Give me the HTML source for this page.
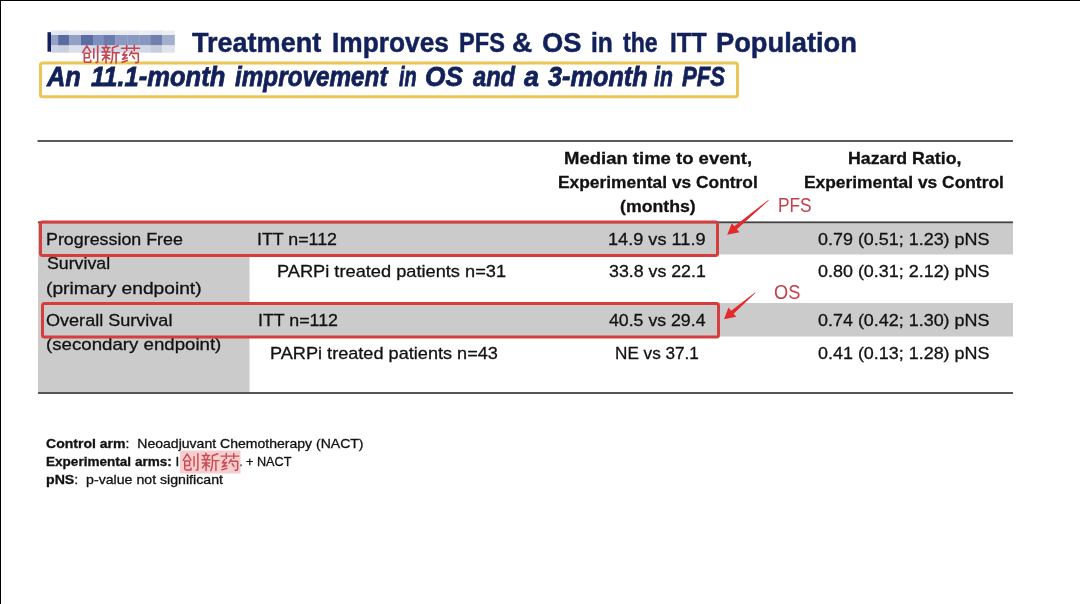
<!DOCTYPE html>
<html><head><meta charset="utf-8"><style>
html,body{margin:0;padding:0;background:#fff;}
body{width:1080px;height:604px;position:relative;overflow:hidden;font-family:"Liberation Sans",sans-serif;}
.ov{position:absolute;left:0;top:0;}
.t{position:absolute;white-space:nowrap;line-height:normal;transform-origin:0 0;-webkit-text-stroke:0.3px currentColor;}
.t.sub{-webkit-text-stroke:0.8px currentColor;}
.t.ann{-webkit-text-stroke:0;}
.t.ttl{-webkit-text-stroke:0.5px currentColor;}
.edge-t{position:absolute;left:0;top:0;width:1080px;height:1px;background:#000;}
.edge-l{position:absolute;left:0;top:0;width:1px;height:604px;background:#000;}
</style></head><body>
<svg class="ov" width="1080" height="604" viewBox="0 0 1080 604">
<!-- table -->
<rect x="37.5" y="140" width="975.5" height="2" fill="#5a5a5a"/>
<rect x="38" y="222.5" width="975" height="32" fill="#cbcbcb"/>
<rect x="38" y="221.4" width="975" height="1.8" fill="#444"/>
<rect x="38" y="254.5" width="211.5" height="138" fill="#cbcbcb"/>
<rect x="38" y="303" width="975" height="33.5" fill="#cbcbcb"/>
<rect x="38" y="392" width="975" height="2" fill="#555"/>
</svg>
<div class="t ttl" style="left:191.70px;top:26.86px;font-size:28px;color:#12215a;transform:scaleX(0.9656)"><span style="font-weight:bold;font-style:normal">Treatment</span></div>
<div class="t ttl" style="left:331.86px;top:26.86px;font-size:28px;color:#12215a;transform:scaleX(0.9396)"><span style="font-weight:bold;font-style:normal">Improves</span></div>
<div class="t ttl" style="left:458.56px;top:26.86px;font-size:28px;color:#12215a;transform:scaleX(0.8431)"><span style="font-weight:bold;font-style:normal">PFS</span></div>
<div class="t ttl" style="left:511.81px;top:26.86px;font-size:28px;color:#12215a;transform:scaleX(0.9947)"><span style="font-weight:bold;font-style:normal">&amp;</span></div>
<div class="t ttl" style="left:541.83px;top:26.86px;font-size:28px;color:#12215a;transform:scaleX(0.9747)"><span style="font-weight:bold;font-style:normal">OS</span></div>
<div class="t ttl" style="left:590.82px;top:26.86px;font-size:28px;color:#12215a;transform:scaleX(0.8780)"><span style="font-weight:bold;font-style:normal">in</span></div>
<div class="t ttl" style="left:622.80px;top:26.86px;font-size:28px;color:#12215a;transform:scaleX(0.8255)"><span style="font-weight:bold;font-style:normal">the</span></div>
<div class="t ttl" style="left:670.23px;top:26.86px;font-size:28px;color:#12215a;transform:scaleX(0.8708)"><span style="font-weight:bold;font-style:normal">ITT</span></div>
<div class="t ttl" style="left:715.73px;top:26.86px;font-size:28px;color:#12215a;transform:scaleX(0.9744)"><span style="font-weight:bold;font-style:normal">Population</span></div>
<div class="t sub" style="left:47.11px;top:60.86px;font-size:28px;color:#12215a;transform:scaleX(0.9081)"><span style="font-weight:bold;font-style:italic">An</span></div>
<div class="t sub" style="left:91.10px;top:60.86px;font-size:28px;color:#12215a;transform:scaleX(0.9120)"><span style="font-weight:bold;font-style:italic">11.1-month</span></div>
<div class="t sub" style="left:234.50px;top:60.86px;font-size:28px;color:#12215a;transform:scaleX(0.8676)"><span style="font-weight:bold;font-style:italic">improvement</span></div>
<div class="t sub" style="left:399.30px;top:60.86px;font-size:28px;color:#12215a;transform:scaleX(0.7107)"><span style="font-weight:bold;font-style:italic">in</span></div>
<div class="t sub" style="left:424.86px;top:60.86px;font-size:28px;color:#12215a;transform:scaleX(0.9377)"><span style="font-weight:bold;font-style:italic">OS</span></div>
<div class="t sub" style="left:472.90px;top:60.86px;font-size:28px;color:#12215a;transform:scaleX(0.8446)"><span style="font-weight:bold;font-style:italic">and</span></div>
<div class="t sub" style="left:524.20px;top:60.86px;font-size:28px;color:#12215a;transform:scaleX(0.9600)"><span style="font-weight:bold;font-style:italic">a</span></div>
<div class="t sub" style="left:548.20px;top:60.86px;font-size:28px;color:#12215a;transform:scaleX(0.9028)"><span style="font-weight:bold;font-style:italic">3-month</span></div>
<div class="t sub" style="left:654.20px;top:60.86px;font-size:28px;color:#12215a;transform:scaleX(0.7570)"><span style="font-weight:bold;font-style:italic">in</span></div>
<div class="t sub" style="left:681.80px;top:60.86px;font-size:28px;color:#12215a;transform:scaleX(0.7923)"><span style="font-weight:bold;font-style:italic">PFS</span></div>
<div class="t" style="left:563.71px;top:148.62px;font-size:17px;color:#121212;transform:scaleX(1.0880)"><span style="font-weight:bold;font-style:normal">Median time to event,</span></div>
<div class="t" style="left:558.18px;top:172.92px;font-size:17px;color:#121212;transform:scaleX(1.0215)"><span style="font-weight:bold;font-style:normal">Experimental vs Control</span></div>
<div class="t" style="left:620.20px;top:197.12px;font-size:17px;color:#121212;transform:scaleX(1.0410)"><span style="font-weight:bold;font-style:normal">(months)</span></div>
<div class="t" style="left:847.96px;top:148.62px;font-size:17px;color:#121212;transform:scaleX(1.0439)"><span style="font-weight:bold;font-style:normal">Hazard Ratio,</span></div>
<div class="t" style="left:804.08px;top:172.92px;font-size:17px;color:#121212;transform:scaleX(1.0220)"><span style="font-weight:bold;font-style:normal">Experimental vs Control</span></div>
<div class="t" style="left:45.55px;top:229.62px;font-size:17px;color:#121212;transform:scaleX(1.0501)">Progression Free</div>
<div class="t" style="left:257.45px;top:229.62px;font-size:17px;color:#121212;transform:scaleX(1.0473)">ITT n=112</div>
<div class="t" style="left:607.93px;top:229.62px;font-size:17px;color:#121212;transform:scaleX(1.0678)">14.9 vs 11.9</div>
<div class="t" style="left:818.40px;top:229.81px;font-size:17px;color:#121212;transform:scaleX(1.0548)">0.79 (0.51; 1.23) pNS</div>
<div class="t" style="left:46.60px;top:253.81px;font-size:17px;color:#121212;transform:scaleX(1.0438)">Survival</div>
<div class="t" style="left:46.07px;top:278.81px;font-size:17px;color:#121212;transform:scaleX(1.1278)">(primary endpoint)</div>
<div class="t" style="left:276.93px;top:262.12px;font-size:17px;color:#121212;transform:scaleX(1.0717)">PARPi treated patients n=31</div>
<div class="t" style="left:608.70px;top:261.92px;font-size:17px;color:#121212;transform:scaleX(1.0449)">33.8 vs 22.1</div>
<div class="t" style="left:818.40px;top:261.92px;font-size:17px;color:#121212;transform:scaleX(1.0548)">0.80 (0.31; 2.12) pNS</div>
<div class="t" style="left:46.40px;top:310.62px;font-size:17px;color:#121212;transform:scaleX(1.0621)">Overall Survival</div>
<div class="t" style="left:257.65px;top:310.62px;font-size:17px;color:#121212;transform:scaleX(1.0473)">ITT n=112</div>
<div class="t" style="left:609.00px;top:310.62px;font-size:17px;color:#121212;transform:scaleX(1.0416)">40.5 vs 29.4</div>
<div class="t" style="left:818.40px;top:310.81px;font-size:17px;color:#121212;transform:scaleX(1.0548)">0.74 (0.42; 1.30) pNS</div>
<div class="t" style="left:45.90px;top:335.01px;font-size:17px;color:#121212;transform:scaleX(1.0978)">(secondary endpoint)</div>
<div class="t" style="left:270.03px;top:343.51px;font-size:17px;color:#121212;transform:scaleX(1.0665)">PARPi treated patients n=43</div>
<div class="t" style="left:614.99px;top:343.62px;font-size:17px;color:#121212;transform:scaleX(1.0086)">NE vs 37.1</div>
<div class="t" style="left:818.40px;top:343.81px;font-size:17px;color:#121212;transform:scaleX(1.0548)">0.41 (0.13; 1.28) pNS</div>
<div class="t" style="left:46.20px;top:436.60px;font-size:12.6px;color:#121212;transform:scaleX(1.1147)"><span style="font-weight:bold;font-style:normal">Control arm</span>:&nbsp; Neoadjuvant Chemotherapy (NACT)</div>
<div class="t" style="left:46.20px;top:455.10px;font-size:12.6px;color:#121212;transform:scaleX(1.0763)"><span style="font-weight:bold;font-style:normal">Experimental arms:</span> I</div>
<div class="t" style="left:239.49px;top:455.10px;font-size:12.6px;color:#121212;transform:scaleX(1.0050)">. + NACT</div>
<div class="t" style="left:46.20px;top:473.40px;font-size:12.6px;color:#121212;transform:scaleX(1.1234)"><span style="font-weight:bold;font-style:normal">pNS</span>:&nbsp; p-value not significant</div>
<div class="t ann" style="left:777.83px;top:193.80px;font-size:20px;color:#c4404a;transform:scaleX(0.8654)">PFS</div>
<div class="t ann" style="left:774.00px;top:281.30px;font-size:20px;color:#c4404a;transform:scaleX(0.9105)">OS</div>
<svg class="ov" width="1080" height="604" viewBox="0 0 1080 604">
<defs><filter id="bl" x="-5%" y="-30%" width="110%" height="160%"><feGaussianBlur stdDeviation="0.5"/></filter><filter id="bl2"><feGaussianBlur stdDeviation="0.35"/></filter></defs>
<rect x="47.5" y="32.2" width="3.5" height="19.5" fill="#12215a"/>
<g filter="url(#bl)"><rect x="51" y="30.5" width="7.400000000000001" height="4.5" fill="#e6e9f1"/>
<rect x="51" y="35" width="7.400000000000001" height="10.5" fill="#95a2c8"/>
<rect x="51" y="45.5" width="7.400000000000001" height="7.2" fill="#cdd3e4"/>
<rect x="58.1" y="30.5" width="11.100000000000005" height="4.5" fill="#e3e6ef"/>
<rect x="58.1" y="35" width="11.100000000000005" height="10.5" fill="#5a6c9f"/>
<rect x="58.1" y="45.5" width="11.100000000000005" height="7.2" fill="#c9cfe1"/>
<rect x="68.9" y="30.5" width="12.399999999999995" height="4.5" fill="#e8ebf2"/>
<rect x="68.9" y="35" width="12.399999999999995" height="10.5" fill="#93a1c6"/>
<rect x="68.9" y="45.5" width="12.399999999999995" height="7.2" fill="#dde0ea"/>
<rect x="81" y="30.5" width="12.3" height="4.5" fill="#e2e5ee"/>
<rect x="81" y="35" width="12.3" height="10.5" fill="#5a6ca2"/>
<rect x="81" y="45.5" width="12.3" height="7.2" fill="#d8dce8"/>
<rect x="93" y="30.5" width="11.099999999999998" height="4.5" fill="#e6e9f1"/>
<rect x="93" y="35" width="11.099999999999998" height="10.5" fill="#7d8fbe"/>
<rect x="93" y="45.5" width="11.099999999999998" height="7.2" fill="#cfd5e5"/>
<rect x="103.8" y="30.5" width="11.700000000000006" height="4.5" fill="#e4e7f0"/>
<rect x="103.8" y="35" width="11.700000000000006" height="10.5" fill="#6a7cae"/>
<rect x="103.8" y="45.5" width="11.700000000000006" height="7.2" fill="#d3d8e7"/>
<rect x="115.2" y="30.5" width="12.399999999999995" height="4.5" fill="#e9ebf2"/>
<rect x="115.2" y="35" width="12.399999999999995" height="10.5" fill="#8a9ac2"/>
<rect x="115.2" y="45.5" width="12.399999999999995" height="7.2" fill="#d6dae6"/>
<rect x="127.3" y="30.5" width="12.40000000000001" height="4.5" fill="#e8eaf1"/>
<rect x="127.3" y="35" width="12.40000000000001" height="10.5" fill="#8a99c1"/>
<rect x="127.3" y="45.5" width="12.40000000000001" height="7.2" fill="#d6dae6"/>
<rect x="139.4" y="30.5" width="11.700000000000006" height="4.5" fill="#eceef4"/>
<rect x="139.4" y="35" width="11.700000000000006" height="10.5" fill="#8797bf"/>
<rect x="139.4" y="45.5" width="11.700000000000006" height="7.2" fill="#d2d7e5"/>
<rect x="150.8" y="30.5" width="11.699999999999978" height="4.5" fill="#e4e7f0"/>
<rect x="150.8" y="35" width="11.699999999999978" height="10.5" fill="#6f80ad"/>
<rect x="150.8" y="45.5" width="11.699999999999978" height="7.2" fill="#c5cce0"/>
<rect x="162.2" y="30.5" width="12.600000000000012" height="4.5" fill="#eceef4"/>
<rect x="162.2" y="35" width="12.600000000000012" height="10.5" fill="#a3adcc"/>
<rect x="162.2" y="45.5" width="12.600000000000012" height="7.2" fill="#e0e3ec"/></g>
<rect x="40.5" y="63" width="697" height="33.8" rx="2" fill="none" stroke="#ecc655" stroke-width="3"/>
<rect x="40.5" y="222" width="677" height="33.5" rx="2" fill="none" stroke="#d63d3d" stroke-width="3"/>
<rect x="42.5" y="303.5" width="676" height="33.5" rx="2" fill="none" stroke="#d63d3d" stroke-width="3"/>
<polygon fill="#e42a2a" points="768.31,199.97 734.41,226.28 731.78,223.14 727.20,234.80 739.49,232.34 736.85,229.19 768.69,200.43"/>
<polygon fill="#e42a2a" points="755.01,292.57 731.15,310.73 728.50,307.61 724.00,319.30 736.27,316.75 733.61,313.63 755.39,293.03"/>
<g transform="translate(80.5,44) scale(1.0)" fill="none" stroke="#c4454f" stroke-width="1.6" stroke-linecap="round" stroke-linejoin="round"><path d="M2.2,8.5 L6.3,1.8 L10.2,8.2 M3.8,9.2 H8.8 V13.8 H3.8 M3.8,9.2 V17.2 Q3.8,18.3 5.2,18.3 H10.2 V16.2 M13.3,4.8 V14.2 M17.2,1.8 V17.6 Q17.2,18.8 15.6,18.4"/><path transform="translate(20,0)" d="M5.3,1.2 L5.8,2.8 M1.8,3.6 H9.2 M3.4,4.6 L4.4,7.2 M7.6,4.6 L6.6,7.2 M1.4,8 H9.6 M1.8,11.2 H9.2 M5.5,8 V19 M5.5,11.5 L1.8,16.2 M5.5,12.5 L9.2,15 M17.6,1.8 L12,3.8 V12 Q12,16 10.4,19 M12,8.8 H18.8 M15.6,8.8 V19"/><path transform="translate(40,0)" d="M1,4.2 H19 M6.2,1.4 V6.6 M13.8,1.4 V6.6 M4.6,7.6 L2.2,11.2 L6.4,10.8 L2,15.2 L6.8,14 M1.6,18.2 L6.8,16.6 M11.2,7.4 L9,11.4 M10.2,9.4 H17.8 V17 Q17.8,19.2 15.2,18.6 M12.2,12 L14,14.6"/></g>
<rect x="180" y="450.5" width="60.5" height="23" fill="#f5cfcd"/>
<g transform="translate(181,452) scale(0.98)" fill="none" stroke="#cc4c56" stroke-width="1.5" stroke-linecap="round" stroke-linejoin="round"><path d="M2.2,8.5 L6.3,1.8 L10.2,8.2 M3.8,9.2 H8.8 V13.8 H3.8 M3.8,9.2 V17.2 Q3.8,18.3 5.2,18.3 H10.2 V16.2 M13.3,4.8 V14.2 M17.2,1.8 V17.6 Q17.2,18.8 15.6,18.4"/><path transform="translate(20,0)" d="M5.3,1.2 L5.8,2.8 M1.8,3.6 H9.2 M3.4,4.6 L4.4,7.2 M7.6,4.6 L6.6,7.2 M1.4,8 H9.6 M1.8,11.2 H9.2 M5.5,8 V19 M5.5,11.5 L1.8,16.2 M5.5,12.5 L9.2,15 M17.6,1.8 L12,3.8 V12 Q12,16 10.4,19 M12,8.8 H18.8 M15.6,8.8 V19"/><path transform="translate(40,0)" d="M1,4.2 H19 M6.2,1.4 V6.6 M13.8,1.4 V6.6 M4.6,7.6 L2.2,11.2 L6.4,10.8 L2,15.2 L6.8,14 M1.6,18.2 L6.8,16.6 M11.2,7.4 L9,11.4 M10.2,9.4 H17.8 V17 Q17.8,19.2 15.2,18.6 M12.2,12 L14,14.6"/></g>
</svg>
<div class="edge-t"></div><div class="edge-l"></div>
</body></html>
